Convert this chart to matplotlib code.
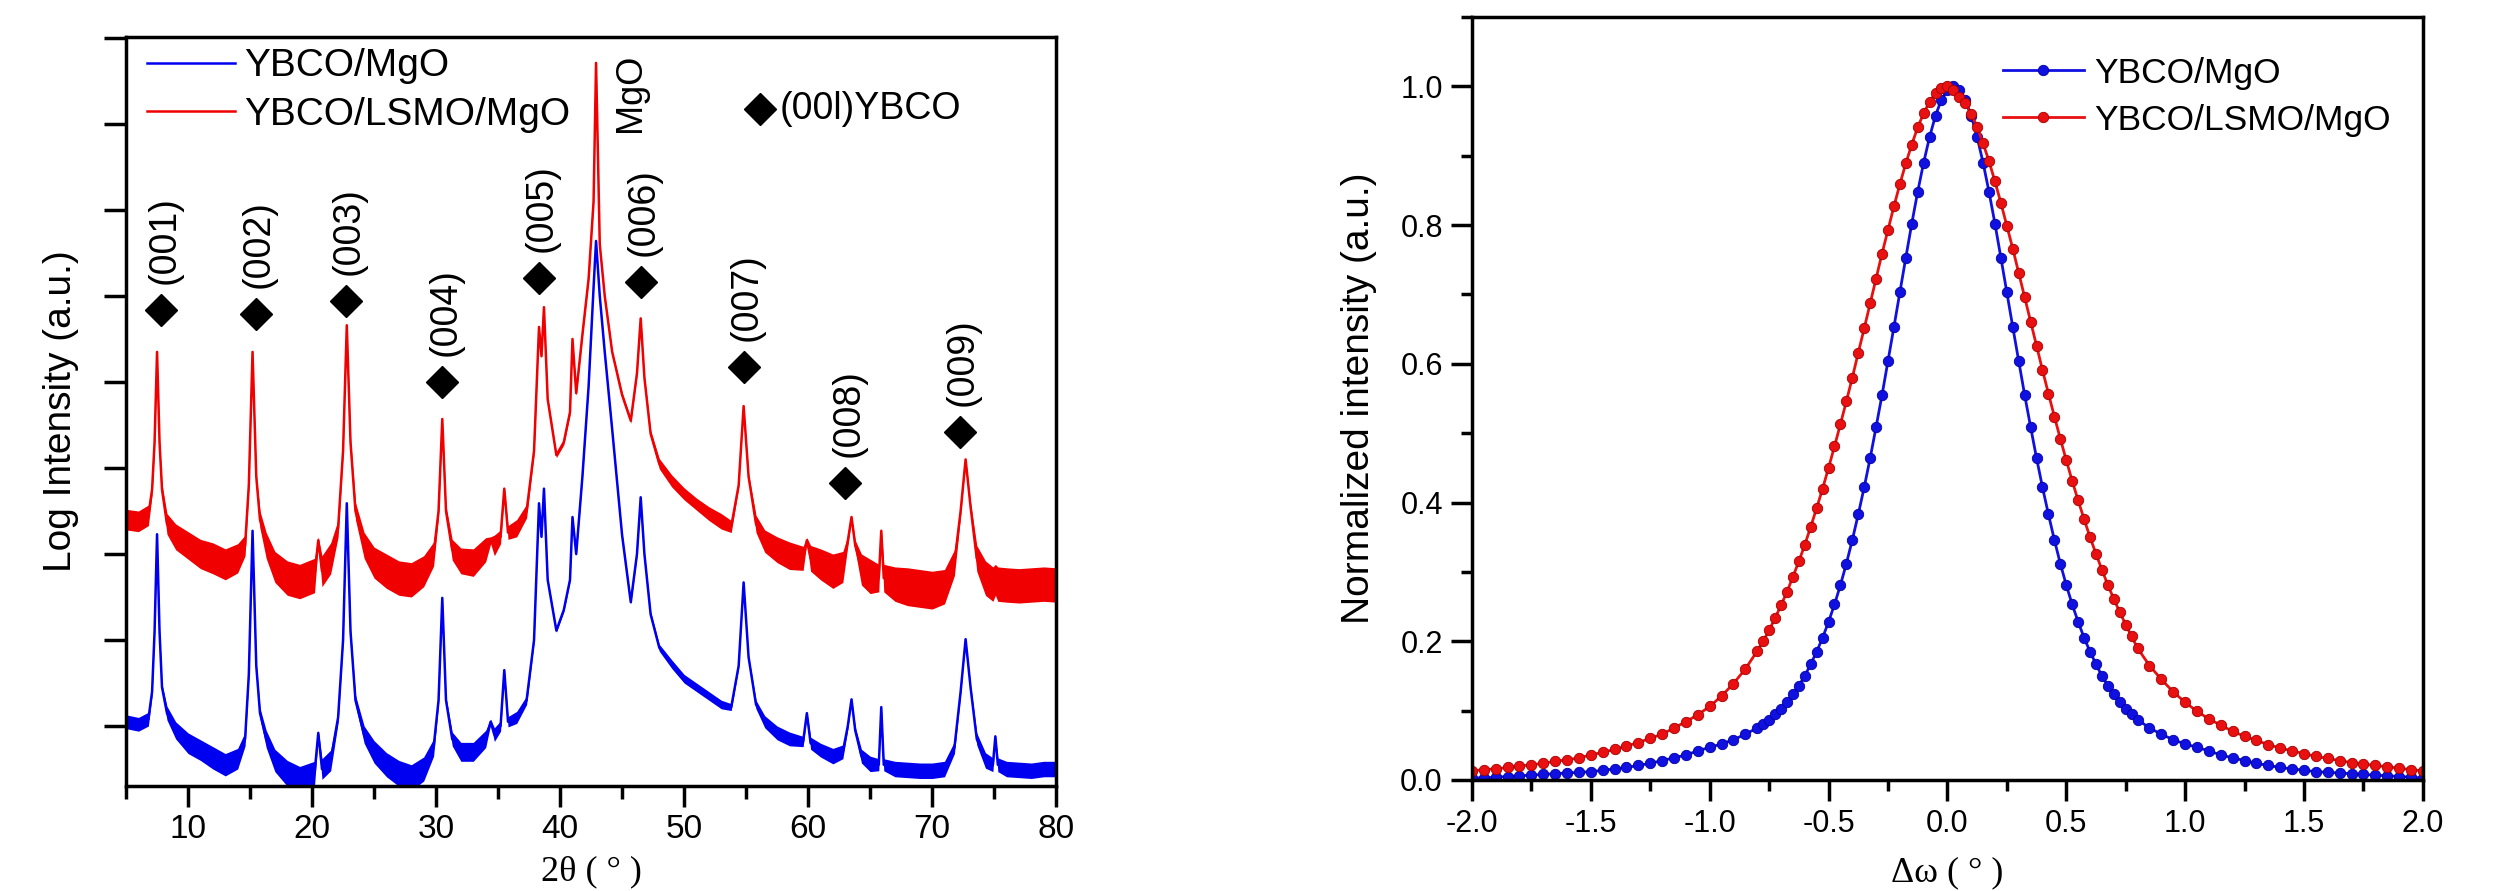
import matplotlib
matplotlib.use('Agg')
import matplotlib.pyplot as plt
from matplotlib.ticker import MultipleLocator

plt.rcParams['font.family'] = ['Liberation Sans', 'DejaVu Sans']

# ---- XRD theta-2theta scans (log intensity, arbitrary offset units) ----
two_theta = [
    5.0, 6.0, 6.8, 7.1, 7.3, 7.5, 7.7, 7.9, 8.3, 9.0,
    10.0, 11.0, 12.0, 13.0, 14.0, 14.6, 14.9, 15.2, 15.5, 15.8,
    16.3, 17.0, 18.0, 19.0, 20.2, 20.5, 20.8, 21.5, 22.1, 22.5,
    22.8, 23.1, 23.5, 24.2, 25.0, 26.0, 27.0, 28.0, 29.0, 29.8,
    30.2, 30.5, 30.8, 31.3, 32.0, 33.0, 34.0, 34.4, 34.7, 35.2,
    35.5, 35.8, 36.5, 37.3, 37.9, 38.3, 38.5, 38.7, 39.0, 39.7,
    40.3, 40.8, 41.0, 41.3, 41.8, 42.3, 42.7, 42.9, 43.2, 43.6,
    44.2, 45.0, 45.7, 46.2, 46.5, 46.8, 47.3, 48.0, 49.0, 50.0,
    51.0, 52.0, 53.0, 53.8, 54.4, 54.8, 55.2, 55.8, 56.5, 57.5,
    58.5, 59.6, 59.9, 60.2, 61.0, 62.0, 62.8, 63.2, 63.5, 63.8,
    64.3, 65.0, 65.7, 65.9, 66.1, 67.0, 68.0, 69.0, 70.0, 71.0,
    71.8, 72.3, 72.7, 73.1, 73.6, 74.3, 74.9, 75.1, 75.3, 76.0,
    77.0, 78.0, 79.0, 80.0]

ybco_mgo_log = [
    1.05, 1.02, 1.08, 1.4, 2.1, 3.23, 2.1, 1.45, 1.15, 0.95,
    0.80, 0.72, 0.63, 0.55, 0.62, 0.85, 1.6, 3.27, 1.7, 1.15,
    0.85, 0.6, 0.45, 0.38, 0.45, 0.92, 0.5, 0.6, 1.1, 2.0,
    3.59, 2.1, 1.3, 0.9, 0.7, 0.55, 0.45, 0.4, 0.5, 0.75,
    1.3, 2.49, 1.3, 0.85, 0.7, 0.7, 0.85, 1.05, 0.9, 1.0,
    1.65, 1.05, 1.1, 1.3, 2.0, 3.59, 3.2, 3.76, 2.7, 2.11,
    2.35, 2.7, 3.43, 3.0, 3.9, 4.95, 6.1, 6.64, 6.0, 5.35,
    4.45, 3.22, 2.44, 3.0, 3.66, 3.0, 2.3, 1.91, 1.72, 1.55,
    1.45, 1.35, 1.25, 1.22, 1.7, 2.67, 1.8, 1.25, 1.05, 0.92,
    0.85, 0.82, 1.15, 0.8, 0.72, 0.65, 0.7, 1.0, 1.31, 0.95,
    0.65, 0.56, 0.55, 1.22, 0.55, 0.5, 0.49, 0.48, 0.48, 0.5,
    0.75, 1.4, 2.01, 1.45, 0.85, 0.6, 0.55, 0.88, 0.55, 0.5,
    0.49, 0.48, 0.5, 0.5]

ybco_lsmo_log = [
    3.40, 3.38, 3.45, 3.75, 4.3, 5.35, 4.3, 3.75, 3.35, 3.2,
    3.1, 3.0, 2.95, 2.88, 2.95, 3.1, 3.8, 5.35, 3.9, 3.4,
    3.1, 2.85, 2.72, 2.68, 2.75, 3.16, 2.8, 2.95, 3.3, 4.2,
    5.66, 4.3, 3.5, 3.1, 2.9, 2.8, 2.72, 2.7, 2.8, 3.0,
    3.5, 4.57, 3.5, 3.05, 2.92, 2.9, 3.05, 3.16, 3.1, 3.2,
    3.76, 3.25, 3.3, 3.5, 4.2, 5.64, 5.3, 5.87, 4.8, 4.15,
    4.3, 4.65, 5.50, 4.87, 5.55, 6.2, 7.1, 8.71, 6.6, 6.0,
    5.35, 4.85, 4.55, 5.1, 5.74, 5.05, 4.4, 4.05, 3.85, 3.70,
    3.58, 3.47, 3.38, 3.32, 3.8, 4.72, 3.9, 3.35, 3.15, 3.05,
    2.98, 2.95, 3.16, 2.95, 2.88, 2.8, 2.85, 3.15, 3.43, 3.1,
    2.82, 2.74, 2.72, 3.27, 2.72, 2.65, 2.62, 2.6, 2.58, 2.62,
    2.9, 3.5, 4.10, 3.55, 2.95, 2.72, 2.65, 2.7, 2.65, 2.64,
    2.63, 2.64, 2.65, 2.64]

# half thickness of the noisy band seen around each trace
ybco_mgo_noise = [
    .08, .08, .08, .04, .02, .01, .02, .04, .08, .10,
    .12, .12, .13, .13, .12, .08, .03, .01, .03, .06,
    .10, .13, .15, .15, .14, .03, .12, .12, .06, .03,
    .01, .03, .06, .10, .13, .14, .15, .15, .14, .10,
    .04, .01, .04, .08, .11, .11, .10, .03, .08, .06,
    .02, .06, .07, .05, .03, .01, .02, .01, .02, .02,
    .02, .02, .01, .02, .02, .02, .01, .01, .01, .01,
    .02, .02, .02, .02, .01, .02, .03, .04, .05, .05,
    .05, .05, .05, .04, .02, .01, .02, .05, .07, .08,
    .08, .06, .02, .07, .08, .09, .08, .04, .02, .04,
    .08, .09, .07, .02, .07, .09, .09, .09, .09, .09,
    .07, .03, .01, .03, .07, .09, .08, .02, .08, .09,
    .09, .09, .09, .09]

ybco_lsmo_noise = [
    .12, .12, .12, .06, .03, .01, .03, .06, .12, .15,
    .16, .17, .18, .18, .17, .12, .04, .01, .04, .10,
    .15, .18, .20, .20, .20, .04, .18, .18, .10, .04,
    .01, .04, .10, .15, .18, .20, .20, .20, .18, .14,
    .06, .01, .06, .12, .15, .16, .14, .04, .12, .08,
    .02, .08, .10, .08, .04, .01, .02, .01, .02, .03,
    .03, .03, .01, .03, .02, .02, .01, .01, .01, .02,
    .02, .03, .03, .02, .01, .02, .04, .06, .07, .07,
    .07, .08, .09, .07, .03, .01, .03, .10, .13, .15,
    .16, .14, .03, .15, .18, .20, .18, .06, .02, .06,
    .18, .20, .16, .03, .16, .20, .22, .22, .22, .20,
    .15, .05, .01, .05, .15, .20, .20, .18, .20, .20,
    .20, .20, .20, .20]

peak_labels = ['(001)', '(002)', '(003)', '(004)', '(005)', '(006)', '(007)', '(008)', '(009)']
peak_pos = [7.85, 15.48, 22.73, 30.48, 38.29, 46.49, 54.8, 63.0, 72.23]
peak_mark = [5.84, 5.79, 5.94, 5.0, 6.21, 6.16, 5.18, 3.83, 4.42]

# ---- rocking curves (normalized) ----
delta_omega = [
    -2.0, -1.95, -1.9, -1.85, -1.8, -1.75, -1.7, -1.65, -1.6, -1.55,
    -1.5, -1.45, -1.4, -1.35, -1.3, -1.25, -1.2, -1.15, -1.1, -1.05,
    -1.0, -0.95, -0.9, -0.85, -0.8,
    -0.775, -0.75, -0.725, -0.7, -0.675, -0.65, -0.625, -0.6, -0.575, -0.55,
    -0.525, -0.5, -0.475, -0.45, -0.425, -0.4, -0.375, -0.35, -0.325, -0.3,
    -0.275, -0.25, -0.225, -0.2, -0.175, -0.15, -0.125, -0.1, -0.075, -0.05,
    -0.025, 0.0, 0.025, 0.05, 0.075, 0.1, 0.125, 0.15, 0.175, 0.2,
    0.225, 0.25, 0.275, 0.3, 0.325, 0.35, 0.375, 0.4, 0.425, 0.45,
    0.475, 0.5, 0.525, 0.55, 0.575, 0.6, 0.625, 0.65, 0.675, 0.7,
    0.725, 0.75, 0.775,
    0.8, 0.85, 0.9, 0.95, 1.0, 1.05, 1.1, 1.15, 1.2, 1.25,
    1.3, 1.35, 1.4, 1.45, 1.5, 1.55, 1.6, 1.65, 1.7, 1.75,
    1.8, 1.85, 1.9, 1.95, 2.0]

rc_ybco_mgo = [
    0.003, 0.003, 0.004, 0.005, 0.006, 0.007, 0.008, 0.009, 0.010, 0.011,
    0.012, 0.014, 0.016, 0.018, 0.021, 0.024, 0.028, 0.032, 0.036, 0.042,
    0.047, 0.052, 0.058, 0.066, 0.075,
    0.081, 0.087, 0.095, 0.103, 0.113, 0.124, 0.136, 0.150, 0.167, 0.185,
    0.205, 0.228, 0.253, 0.281, 0.312, 0.346, 0.383, 0.422, 0.464, 0.509,
    0.555, 0.604, 0.653, 0.703, 0.753, 0.802, 0.848, 0.890, 0.927, 0.958,
    0.981, 0.995, 1.000, 0.995, 0.981, 0.958, 0.927, 0.890, 0.848, 0.802,
    0.753, 0.703, 0.653, 0.604, 0.555, 0.509, 0.464, 0.422, 0.383, 0.346,
    0.312, 0.281, 0.253, 0.228, 0.205, 0.185, 0.167, 0.150, 0.136, 0.124,
    0.113, 0.103, 0.095,
    0.087, 0.075, 0.066, 0.058, 0.052, 0.047, 0.042, 0.036, 0.032, 0.028,
    0.024, 0.021, 0.018, 0.016, 0.014, 0.012, 0.011, 0.010, 0.009, 0.008,
    0.007, 0.006, 0.005, 0.004, 0.003]

rc_ybco_lsmo = [
    0.013, 0.015, 0.016, 0.018, 0.020, 0.022, 0.024, 0.027, 0.029, 0.032,
    0.036, 0.040, 0.044, 0.049, 0.054, 0.060, 0.066, 0.075, 0.084, 0.094,
    0.106, 0.121, 0.139, 0.160, 0.186,
    0.200, 0.216, 0.233, 0.252, 0.271, 0.293, 0.315, 0.339, 0.365, 0.392,
    0.420, 0.450, 0.481, 0.513, 0.546, 0.580, 0.616, 0.651, 0.687, 0.723,
    0.759, 0.793, 0.827, 0.859, 0.889, 0.916, 0.941, 0.961, 0.978, 0.990,
    0.998, 1.000, 0.995, 0.985, 0.976, 0.960, 0.942, 0.918, 0.892, 0.863,
    0.832, 0.799, 0.766, 0.731, 0.696, 0.661, 0.626, 0.591, 0.557, 0.524,
    0.492, 0.461, 0.431, 0.403, 0.376, 0.350, 0.326, 0.303, 0.281, 0.261,
    0.242, 0.224, 0.207,
    0.190, 0.165, 0.145, 0.127, 0.112, 0.099, 0.088, 0.079, 0.070, 0.063,
    0.057, 0.051, 0.046, 0.042, 0.038, 0.034, 0.031, 0.028, 0.025, 0.023,
    0.021, 0.019, 0.017, 0.015, 0.013]

BLUE = '#0000f0'
RED = '#f00000'

fig = plt.figure(figsize=(25.11, 8.91), dpi=100)
ax1 = fig.add_axes([0.0502, 0.1178, 0.3704, 0.8407])
ax2 = fig.add_axes([0.5862, 0.1246, 0.3787, 0.8563])

# left panel: XRD patterns (red first so blue sits on top)
for y, n, c, lab in [(ybco_lsmo_log, ybco_lsmo_noise, RED, 'YBCO/LSMO/MgO'),
                     (ybco_mgo_log, ybco_mgo_noise, BLUE, 'YBCO/MgO')]:
    lo = [a - b for a, b in zip(y, n)]
    hi = [a + b for a, b in zip(y, n)]
    ax1.fill_between(two_theta, lo, hi, color=c, lw=0)
    ax1.plot(two_theta, y, color=c, lw=1.8, label=lab)

for x, h, t in zip(peak_pos, peak_mark, peak_labels):
    ax1.plot(x, h, marker='D', ms=16, color='black', ls='none')
    ax1.text(x + 0.25, h + 0.3, t, rotation=90, ha='center', va='bottom', fontsize=27)

ax1.text(45.7, 8.36, 'MgO', rotation=90, ha='center', va='center', fontsize=26)
ax1.plot(56.1, 8.17, marker='D', ms=16, color='black', ls='none')
ax1.text(57.7, 8.17, '(00l)YBCO', ha='left', va='center', fontsize=27)

ax1.set_xlim(5, 80)
ax1.set_ylim(0.3023, 9.0116)
ax1.xaxis.set_major_locator(MultipleLocator(10))
ax1.xaxis.set_minor_locator(MultipleLocator(5))
ax1.yaxis.set_major_locator(MultipleLocator(1))
ax1.set_yticklabels([])
ax1.tick_params(axis='both', which='major', direction='out', length=15, width=2.5, labelsize=24, pad=5)
ax1.tick_params(axis='both', which='minor', direction='out', length=9, width=2.5)
ax1.tick_params(axis='y', which='major', length=16)
ax1.set_xlabel('2θ ( ° )', family='Liberation Serif', fontsize=26)
ax1.xaxis.set_label_coords(0.5, -0.093)
ax1.set_ylabel('Log Intensity (a.u.)', fontsize=28)
ax1.yaxis.set_label_coords(-0.051, 0.5)
handles, labels = ax1.get_legend_handles_labels()
ax1.legend(handles[::-1], labels[::-1], loc='upper left', bbox_to_anchor=(0.0226, 0.985),
           frameon=False, fontsize=28, handlelength=2.25, handletextpad=0.25,
           borderpad=0, borderaxespad=0, labelspacing=0.33)

# right panel: rocking curves
ax2.plot(delta_omega, rc_ybco_mgo, color='#1010e0', lw=2, marker='o', ms=7.5,
         mec='#0000a0', mew=0.6, label='YBCO/MgO')
ax2.plot(delta_omega, rc_ybco_lsmo, color='#e81010', lw=2, marker='o', ms=7.5,
         mec='#a00000', mew=0.6, label='YBCO/LSMO/MgO')
ax2.set_xlim(-2, 2)
ax2.set_ylim(0, 1.1)
ax2.xaxis.set_major_locator(MultipleLocator(0.5))
ax2.xaxis.set_minor_locator(MultipleLocator(0.25))
ax2.yaxis.set_major_locator(MultipleLocator(0.2))
ax2.yaxis.set_minor_locator(MultipleLocator(0.1))
ax2.xaxis.set_major_formatter(plt.FormatStrFormatter('%.1f'))
ax2.yaxis.set_major_formatter(plt.FormatStrFormatter('%.1f'))
ax2.tick_params(axis='both', which='major', direction='out', length=15, width=2.5, labelsize=22, pad=6)
ax2.tick_params(axis='both', which='minor', direction='out', length=8, width=2.5)
ax2.set_xlabel('Δω ( ° )', family='Liberation Serif', fontsize=26)
ax2.xaxis.set_label_coords(0.5, -0.1)
ax2.set_ylabel('Normalized intensity (a.u.)', fontsize=28)
ax2.yaxis.set_label_coords(-0.0994, 0.5)
ax2.legend(loc='upper left', bbox_to_anchor=(0.558, 0.948), frameon=False, fontsize=25.5,
           handlelength=2.3, handletextpad=0.3, numpoints=1, borderpad=0, borderaxespad=0,
           labelspacing=0.4)

for ax in (ax1, ax2):
    for s in ax.spines.values():
        s.set_linewidth(2.5)

fig.savefig('out.png', dpi=100)
